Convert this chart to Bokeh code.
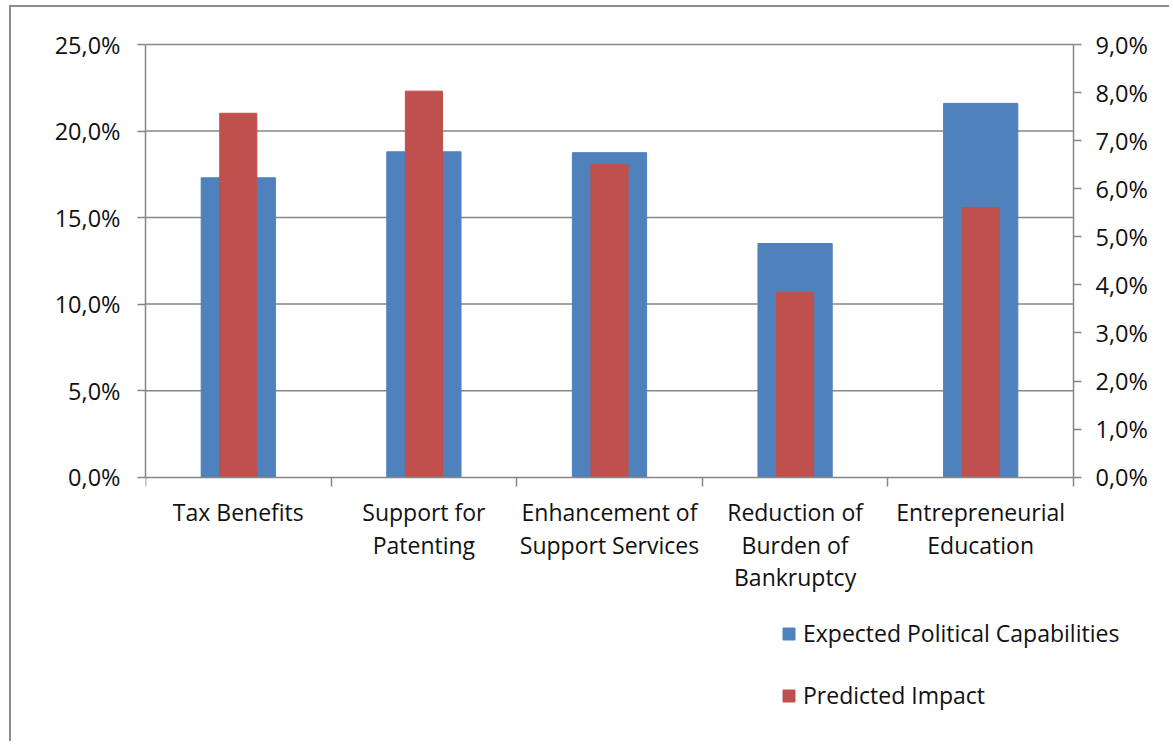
from bokeh.plotting import figure
from bokeh.models import (Range1d, LinearAxis, FixedTicker, Legend, LegendItem, ColumnDataSource)
from bokeh.embed import file_html
from bokeh.resources import INLINE

categories = ["Tax Benefits", "Support for\nPatenting", "Enhancement of\nSupport Services",
              "Reduction of\nBurden of\nBankruptcy", "Entrepreneurial\nEducation"]
expected_political = [17.3, 18.8, 18.75, 13.5, 21.6]
predicted_impact = [7.57, 8.03, 6.5, 3.85, 5.61]

left_ticks = [0, 5, 10, 15, 20, 25]
left_tick_labels = ["0,0%", "5,0%", "10,0%", "15,0%", "20,0%", "25,0%"]
right_ticks = [0, 1, 2, 3, 4, 5, 6, 7, 8, 9]
right_tick_labels = ["0,0%", "1,0%", "2,0%", "3,0%", "4,0%", "5,0%", "6,0%", "7,0%", "8,0%", "9,0%"]

FONT = "Open Sans"
FS = "23px"
FS_TICK = "23.5px"
GRAY = "#868686"
BLUE = "#4F81BD"
RED = "#C0504D"
TXT = "#111111"

# layout (canvas pixels): plot area 928 x 432.7 px, its left edge at 134, top at 37
W, H = 1160, 736
LEFT, RIGHT, FTOP, BOT = 134, 2, 8, 10
AREA_TOP = 37.0
AREA_W, AREA_H = 928.0, 432.7
n = len(categories)
left_max = 25.0
right_max = 9.0
ppu = AREA_H / left_max
zero_px = AREA_TOP + AREA_H
y_top = (zero_px - FTOP) / ppu
y_bot = -((H - BOT) - zero_px) / ppu
frame_w = W - LEFT - RIGHT
x_max = n * frame_w / AREA_W
r_scale = right_max / left_max

xpos = [i + 0.5 for i in range(n)]
src = ColumnDataSource(dict(x=xpos, blue=expected_political, red=predicted_impact))
grid_src = ColumnDataSource(dict(y=left_ticks[1:], x0=[0] * (len(left_ticks) - 1),
                                 x1=[n] * (len(left_ticks) - 1)))

p = figure(width=W, height=H, output_backend="svg", toolbar_location=None,
           x_range=Range1d(0, x_max), y_range=Range1d(y_bot, y_top),
           min_border_left=LEFT, min_border_right=RIGHT, min_border_top=FTOP, min_border_bottom=BOT,
           x_axis_type=None, y_axis_type=None)
p.outline_line_color = None
p.background_fill_color = "white"
p.border_fill_color = "white"
p.styles = {"margin-left": "9px", "margin-top": "5px",
            "border-left": "2px solid #8c8c8c", "border-top": "2px solid #8c8c8c"}

p.extra_y_ranges = {"right": Range1d(y_bot * r_scale, y_top * r_scale)}

yl = LinearAxis(ticker=FixedTicker(ticks=left_ticks, minor_ticks=[]), bounds=(0, left_max))
yl.major_label_overrides = {t: l for t, l in zip(left_ticks, left_tick_labels)}
yr = LinearAxis(y_range_name="right", ticker=FixedTicker(ticks=right_ticks, minor_ticks=[]),
                bounds=(0, right_max), fixed_location=n)
yr.major_label_overrides = {t: l for t, l in zip(right_ticks, right_tick_labels)}
for ax in (yl, yr):
    ax.axis_line_color = GRAY
    ax.axis_line_width = 1.5
    ax.major_tick_line_color = GRAY
    ax.major_tick_line_width = 1.5
    ax.major_tick_out = 8
    ax.major_tick_in = 0
    ax.minor_tick_line_color = None
    ax.major_label_text_font = FONT
    ax.major_label_text_font_size = FS_TICK
    ax.major_label_text_color = TXT
yl.major_label_standoff = 17
yr.major_label_standoff = 14
p.add_layout(yl, "left")
p.add_layout(yr, "right")

xa = LinearAxis(ticker=FixedTicker(ticks=xpos, minor_ticks=list(range(n + 1))),
                fixed_location=0, bounds=(0, n))
xa.major_label_overrides = {x: c for x, c in zip(xpos, categories)}
xa.axis_line_color = GRAY
xa.axis_line_width = 1.5
xa.major_tick_line_color = None
xa.minor_tick_line_color = GRAY
xa.minor_tick_line_width = 1.5
xa.minor_tick_out = 9
xa.minor_tick_in = 0
xa.major_label_text_font = FONT
xa.major_label_text_font_size = FS
xa.major_label_text_color = TXT
xa.major_label_standoff = 10
xa.major_label_text_line_height = 1.01
p.add_layout(xa, "below")

# horizontal gridlines at the left-axis ticks, limited to the plot area
p.segment(x0="x0", x1="x1", y0="y", y1="y", source=grid_src, line_color=GRAY, line_width=1.5)

rb = p.vbar(x="x", top="blue", width=0.4, source=src, color=BLUE)
rr = p.vbar(x="x", top="red", width=0.2, source=src, color=RED, y_range_name="right")

legend = Legend(items=[LegendItem(label="Expected Political Capabilities", renderers=[rb]),
                       LegendItem(label="Predicted Impact", renderers=[rr])],
                location=(636, 22), orientation="vertical",
                glyph_width=15, glyph_height=15, label_standoff=7, spacing=30,
                padding=0, margin=0, border_line_color=None, background_fill_alpha=0,
                label_text_font=FONT, label_text_font_size=FS, label_text_color=TXT)
p.add_layout(legend, "center")

open("out.html", "w").write(file_html(p, INLINE))
